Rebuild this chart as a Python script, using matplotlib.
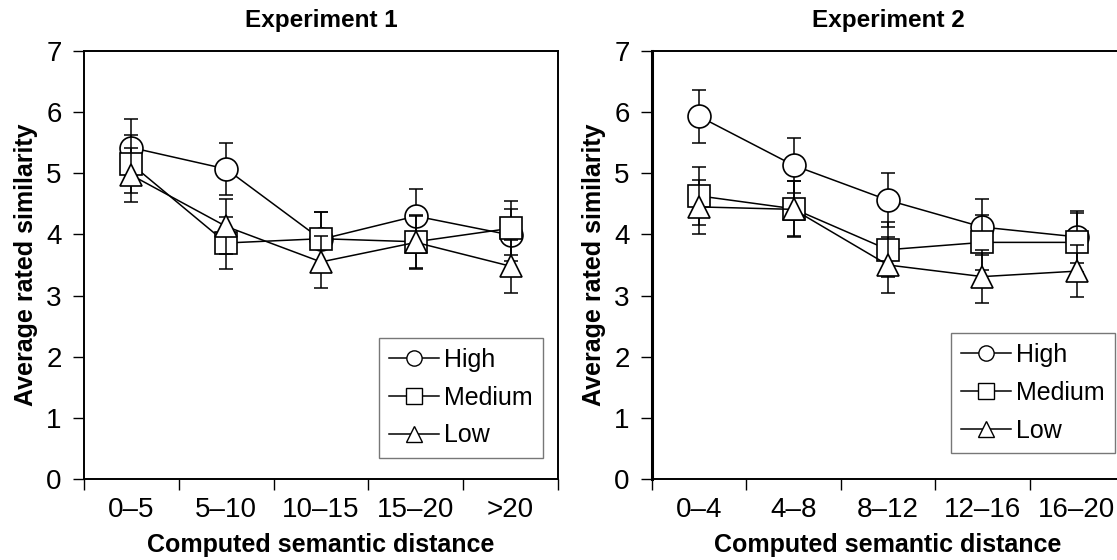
import matplotlib
matplotlib.use("Agg")
import matplotlib.pyplot as plt
from matplotlib.ticker import FixedLocator, NullFormatter, FixedFormatter

plt.rcParams['font.family'] = ['Liberation Sans', 'DejaVu Sans']

# Experiment 1
exp1_labels = ['0\u20135', '5\u201310', '10\u201315', '15\u201320', '>20']
exp1_high = [5.42, 5.07, 3.92, 4.30, 3.99]
exp1_high_err = [0.47, 0.43, 0.44, 0.44, 0.43]
exp1_medium = [5.15, 3.86, 3.93, 3.88, 4.10]
exp1_medium_err = [0.47, 0.42, 0.43, 0.43, 0.44]
exp1_low = [4.97, 4.13, 3.55, 3.87, 3.48]
exp1_low_err = [0.44, 0.45, 0.42, 0.43, 0.43]

# Experiment 2
exp2_labels = ['0\u20134', '4\u20138', '8\u201312', '12\u201316', '16\u201320']
exp2_high = [5.93, 5.13, 4.56, 4.12, 3.96]
exp2_high_err = [0.44, 0.45, 0.44, 0.46, 0.42]
exp2_medium = [4.63, 4.42, 3.75, 3.87, 3.87]
exp2_medium_err = [0.47, 0.45, 0.45, 0.45, 0.48]
exp2_low = [4.45, 4.41, 3.50, 3.31, 3.40]
exp2_low_err = [0.44, 0.46, 0.45, 0.43, 0.43]

W, H = 1117, 560
MARKERS = {'High': 'o', 'Medium': 's', 'Low': '^'}


def draw_panel(ax, title, labels, series):
    n = len(labels)
    xs = [i + 0.5 for i in range(n)]
    z = 3
    for name, vals, errs in series:
        m = MARKERS[name]
        ax.errorbar(xs, vals, yerr=errs, fmt='none', ecolor='black',
                    elinewidth=1.1, capsize=4.8, capthick=1.1, zorder=z)
        ax.plot(xs, vals, color='black', linewidth=1.1, zorder=z + 0.5)
        ax.plot(xs, vals, linestyle='none', marker=m,
                markersize=16.5 if m != '^' else 16, markerfacecolor='white',
                markeredgecolor='black', markeredgewidth=1.2, zorder=z + 1)
        # proxy for legend
        ax.plot([], [], color='black', linewidth=1.1, marker=m,
                markersize=11, markerfacecolor='white',
                markeredgecolor='black', markeredgewidth=1.0, label=name)
        z += 2

    ax.set_xlim(0, n)
    ax.set_ylim(0, 7)
    ax.set_yticks(range(8))
    ax.xaxis.set_major_locator(FixedLocator(range(n + 1)))
    ax.xaxis.set_major_formatter(NullFormatter())
    ax.xaxis.set_minor_locator(FixedLocator(xs))
    ax.xaxis.set_minor_formatter(FixedFormatter(labels))
    ax.tick_params(axis='x', which='minor', length=0, pad=13, labelsize=20)
    ax.tick_params(axis='x', which='major', length=8, width=1.0,
                   direction='out')
    ax.tick_params(axis='y', length=8, width=1.0, direction='out',
                   labelsize=20, pad=8)
    for sp in ax.spines.values():
        sp.set_linewidth(1.4)
    ax.set_xlabel('Computed semantic distance', fontsize=18,
                  fontweight='bold', labelpad=7)
    ax.set_ylabel('Average rated similarity', fontsize=18,
                  fontweight='bold', labelpad=6)
    ax.set_title(title, fontsize=17.5, fontweight='bold', pad=17)


fig = plt.figure(figsize=(W / 100, H / 100), dpi=100)

leg_kw = dict(loc='upper left', fontsize=18, frameon=True, fancybox=False,
              edgecolor='#555555', handlelength=2.0, handletextpad=0.2,
              labelspacing=0.55, borderpad=0.4, borderaxespad=0)

ax1 = fig.add_axes([84 / W, 81 / H, 474 / W, 428 / H])
draw_panel(ax1, 'Experiment 1', exp1_labels, [
    ('High', exp1_high, exp1_high_err),
    ('Medium', exp1_medium, exp1_medium_err),
    ('Low', exp1_low, exp1_low_err),
])
leg1 = ax1.legend(bbox_to_anchor=(295 / 474, 1 - 287 / 428), **leg_kw)
leg1.get_frame().set_linewidth(1.0)

ax2 = fig.add_axes([652 / W, 81 / H, 472 / W, 428 / H])
draw_panel(ax2, 'Experiment 2', exp2_labels, [
    ('High', exp2_high, exp2_high_err),
    ('Medium', exp2_medium, exp2_medium_err),
    ('Low', exp2_low, exp2_low_err),
])
ax2.spines['left'].set_linewidth(2.2)
leg2 = ax2.legend(bbox_to_anchor=(299 / 472, 1 - 282 / 428), **leg_kw)
leg2.get_frame().set_linewidth(1.0)

fig.savefig('out.png', dpi=100)
